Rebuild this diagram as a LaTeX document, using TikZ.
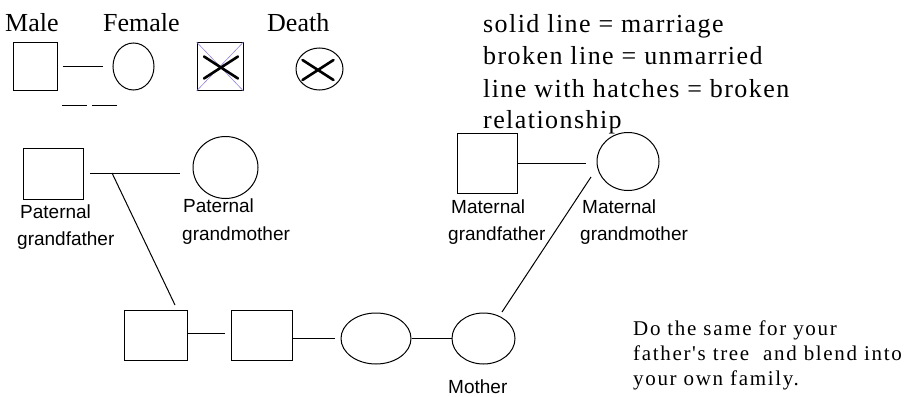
\documentclass[tikz,border=0pt]{standalone}
\usepackage{fontspec}
\setmainfont{Liberation Serif}
\newfontfamily\lsans{Liberation Sans}
\newfontfamily\wserif[LetterSpace=5.5]{Liberation Serif}
\newfontfamily\wserifb[LetterSpace=8]{Liberation Serif}
\definecolor{lilac}{RGB}{150,130,215}
\tikzset{
  shp/.style={draw=black, line width=1pt, inner sep=0pt},
  malebox/.style={shp, rectangle},
  femcirc/.style={shp, ellipse},
  conn/.style={draw=black, line width=1pt},
  legtxt/.style={inner sep=0pt, anchor=base west, font=\fontsize{26}{30}\selectfont},
  notetxt/.style={inner sep=0pt, anchor=base west, font=\wserif\fontsize{26}{30}\selectfont},
  note2txt/.style={inner sep=0pt, anchor=base west, font=\wserifb\fontsize{21}{25}\selectfont},
  lbl/.style={inner sep=0pt, anchor=base west, font=\lsans\fontsize{19}{23}\selectfont},
  thickx/.style={line width=2.6pt, black, line cap=round},
  thinx/.style={line width=0.6pt, lilac}
}
\usetikzlibrary{shapes.geometric,calc}
\begin{document}
\begin{tikzpicture}[x=1pt,y=-1pt]
\useasboundingbox (0,0) rectangle (907,396);

% ---------- legend ----------
\node[legtxt] (tmale) at (5,32) {Male};
\node[legtxt] (tfemale) at (103,32) {Female};
\node[legtxt] (tdeath) at (267,32) {Death};

\node[malebox, minimum width=44pt, minimum height=47pt] (lm) at (35,66.5) {};
\node[femcirc, minimum width=41pt, minimum height=47pt] (lf) at (133.5,66.5) {};
\draw[conn, shorten <=5pt, shorten >=10pt] (lm.east) -- (lf.west);
\coordinate (dashA) at (62,105);
\coordinate (dashB) at (117,105);
\draw[conn, dash pattern=on 25pt off 5pt] (dashA) -- (dashB);

\node[malebox, minimum width=46pt, minimum height=48pt] (ldb) at (220,66.5) {};
\draw[thinx] (ldb.north west) -- (ldb.south east);
\draw[thinx] (ldb.south west) -- (ldb.north east);
\draw[thickx] ($(ldb.center)+(-16,-10)$) -- ($(ldb.center)+(18,12)$);
\draw[thickx] ($(ldb.center)+(-16,12)$) -- ($(ldb.center)+(18,-10)$);

\node[femcirc, minimum width=47pt, minimum height=42pt] (ldc) at (319.5,69) {};
\draw[thickx] ($(ldc.center)+(-17,-9)$) -- ($(ldc.center)+(14,11)$);
\draw[thickx] ($(ldc.center)+(-17,11)$) -- ($(ldc.center)+(14,-9)$);

% ---------- notes ----------
\node[notetxt] (n1) at (483,33) {solid line = marriage};
\node[notetxt] (n2) at (483,64) {broken line = unmarried};
\node[notetxt] (n3) at (483,97) {line with hatches = broken};
\node[notetxt] (n4) at (483,128) {relationship};

\node[note2txt] (m1) at (633,335) {Do the same for your};
\node[note2txt] (m2) at (633,360) {father's tree\ \ and blend into};
\node[note2txt] (m3) at (633,385) {your own family.};

% ---------- paternal grandparents ----------
\node[malebox, minimum width=60pt, minimum height=51pt] (pgf) at (53,173.5) {};
\node[femcirc, minimum width=65pt, minimum height=62pt] (pgm) at (225.5,167.5) {};
\coordinate (pjoinL) at (90,173);
\coordinate (pjoin) at (112,173);
\coordinate (pjoinR) at (180,173);
\draw[conn] (pjoinL) -- (pjoinR);
\node[lbl] (lpgf1) at (20,218) {Paternal};
\node[lbl] (lpgf2) at (17,245) {grandfather};
\node[lbl] (lpgm1) at (183,212) {Paternal};
\node[lbl] (lpgm2) at (182,240) {grandmother};

% ---------- maternal grandparents ----------
\node[malebox, minimum width=60pt, minimum height=60pt] (mgf) at (487,163) {};
\node[femcirc, minimum width=62pt, minimum height=58pt] (mgm) at (628,161.5) {};
\draw[conn] (mgf.east) -- ++(68,0) coordinate (mjoinR);
\node[lbl] (lmgf1) at (451,213) {Maternal};
\node[lbl] (lmgf2) at (448,240) {grandfather};
\node[lbl] (lmgm1) at (582,213) {Maternal};
\node[lbl] (lmgm2) at (580,240) {grandmother};

% ---------- bottom row ----------
\node[malebox, minimum width=63pt, minimum height=50pt] (b1) at (155.5,335) {};
\node[malebox, minimum width=61pt, minimum height=50pt] (b2) at (261.5,335) {};
\node[femcirc, minimum width=70pt, minimum height=51pt] (e1) at (376,338.5) {};
\node[femcirc, minimum width=63pt, minimum height=51pt] (mo) at (483.5,338.5) {};
\node[lbl] (lmo) at (448,393) {Mother};

\draw[conn] (b1.east |- 0,333) -- (225,333);
\draw[conn] (b2.east |- 0,338) -- (335,338);
\draw[conn] (e1.east) -- (mo.west);

\coordinate (b1top) at (175,305);
\draw[conn] (pjoin) -- (b1top);
\coordinate (motop) at (502,312);
\coordinate (mgmlow) at (591,177);
\draw[conn] (motop) -- (mgmlow);
\end{tikzpicture}
\end{document}
